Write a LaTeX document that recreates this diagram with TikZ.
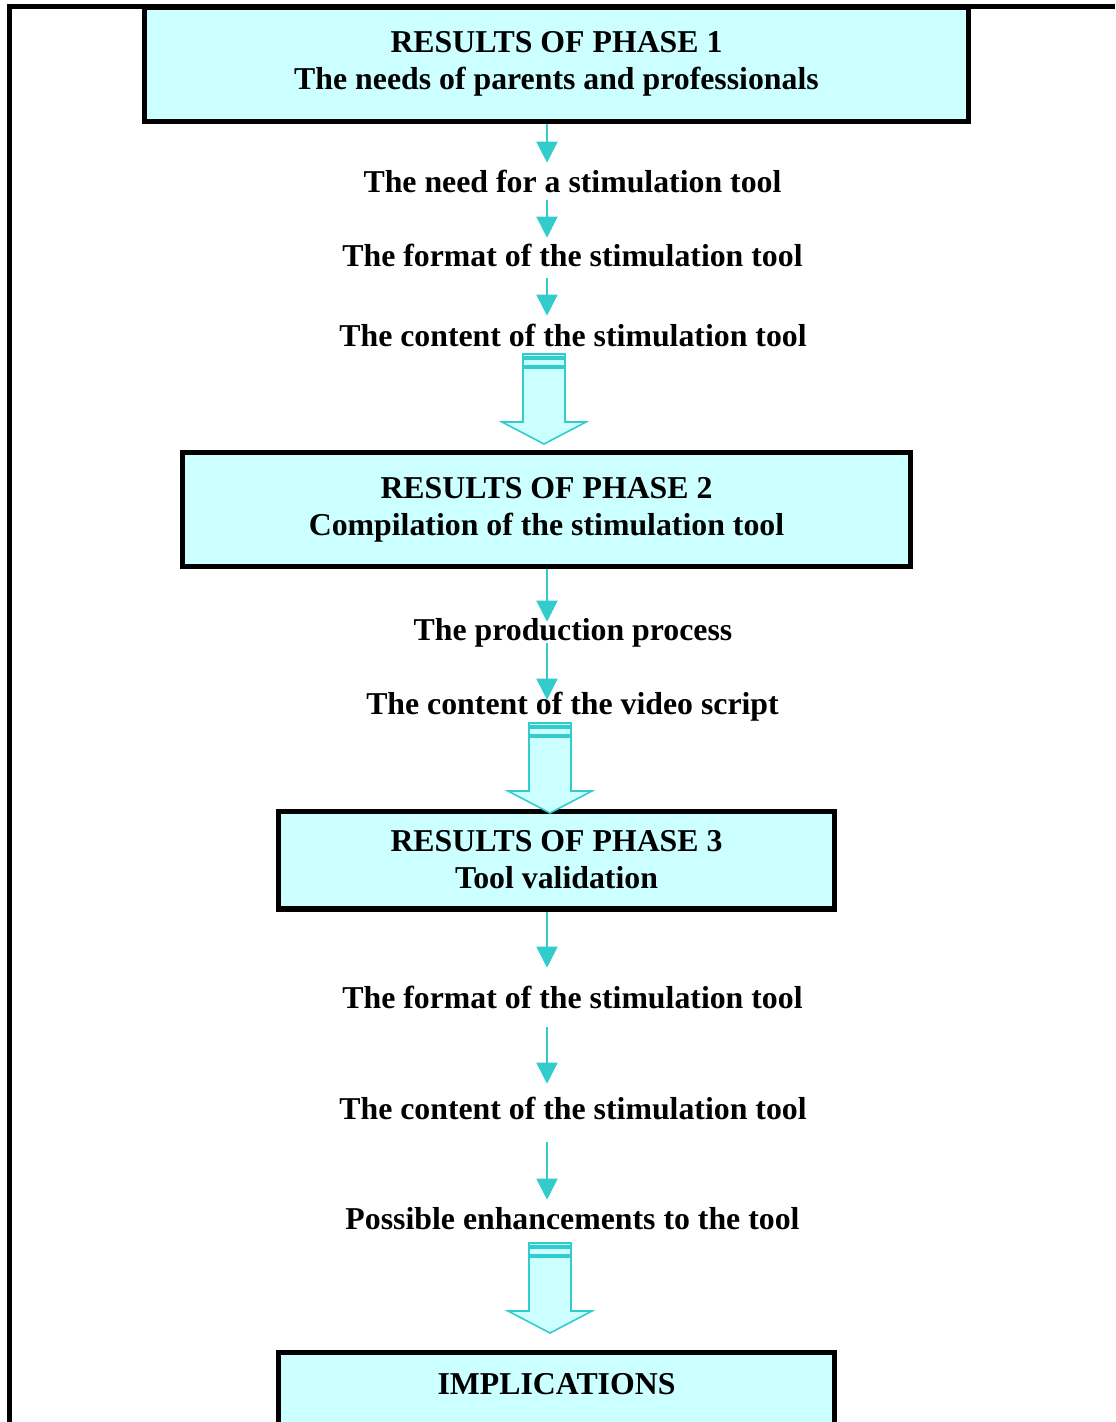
\documentclass[tikz,border=0pt]{standalone}
\usepackage{fontspec}
\setmainfont{Liberation Serif}
\usetikzlibrary{arrows.meta,calc}
\definecolor{boxcyan}{RGB}{204,255,255}
\definecolor{arrowteal}{RGB}{51,204,204}

\begin{document}
\begin{tikzpicture}[
    x=0.02cm,
    y=-0.02cm,
    font=\fontsize{18.1}{21}\selectfont\bfseries,
    box/.style={
        draw=black,
        line width=2.85pt,
        fill=boxcyan,
        align=center
    },
    lbl/.style={
        inner sep=0pt,
        text height=11.9pt,
        text depth=0pt
    },
    arr/.style={-{Triangle[length=12pt,width=12pt]}, line width=1.1pt, draw=arrowteal},
    bigarr/.style={draw=arrowteal, fill=boxcyan, line width=0.9pt},
    bigarrow/.pic={
        \draw[bigarr] (-21,-90) rectangle (21,-87);
        \draw[bigarr] (-21,-85) rectangle (21,-78);
        \draw[bigarr] (-21,-76) -- (-21,-22) -- (-42,-22) -- (0,0)
            -- (42,-22) -- (21,-22) -- (21,-76) -- cycle;
    }
]

\useasboundingbox (0,0) rectangle (1115,1422);
\clip (0,0) rectangle (1115,1422);

% outer frame
\draw[line width=2.85pt] (1115,7) -- (9.5,7) -- (9.5,1422);

\coordinate (axis) at (547,0);

% phase 1
\node[box, minimum width=16.5cm, minimum height=2.29cm] (p1) at (556.5,64.25)
{RESULTS OF PHASE 1\\The needs of parents and professionals};

\node[lbl] (need) at (572.5,182) {The need for a stimulation tool};
\node[lbl] (format1) at (572.5,256) {The format of the stimulation tool};
\node[lbl] (content1) at (573,336) {The content of the stimulation tool};

% phase 2
\node[box, minimum width=14.58cm, minimum height=2.3cm] (p2) at (546.5,509.5)
{RESULTS OF PHASE 2\\Compilation of the stimulation tool};

\node[lbl] (prod) at (573,630) {The production process};
\node[lbl] (script) at (572.5,704) {The content of the video script};

% phase 3
\node[box, minimum width=11.14cm, minimum height=1.96cm] (p3) at (556.5,860)
{RESULTS OF PHASE 3\\Tool validation};

\node[lbl] (format3) at (572.5,998) {The format of the stimulation tool};
\node[lbl] (content3) at (573,1109) {The content of the stimulation tool};
\node[lbl] (enh) at (572.5,1219) {Possible enhancements to the tool};

% implications (runs off the page)
\node[box, minimum width=11.14cm, anchor=north, inner ysep=12.2pt,
      text height=11.9pt, text depth=80pt] (impl) at (556.5,1349.5)
{IMPLICATIONS};

% small arrows
\draw[arr] (p1.south -| axis) -- ($(need.north -| axis)+(0,-8.5)$);
\draw[arr] ($(need.south -| axis)+(0,7.5)$) -- ($(format1.north -| axis)+(0,-7.5)$);
\draw[arr] ($(format1.south -| axis)+(0,11.5)$) -- ($(content1.north -| axis)+(0,-9.5)$);

\draw[arr] (p2.south -| axis) -- ($(prod.north -| axis)+(0,2.5)$);
\draw[arr] ($(prod.south -| axis)+(0,2.5)$) -- ($(script.north -| axis)+(0,6.5)$);

\draw[arr] (p3.south -| axis) -- ($(format3.north -| axis)+(0,-19.5)$);
\draw[arr] ($(format3.south -| axis)+(0,18.5)$) -- ($(content3.north -| axis)+(0,-14.5)$);
\draw[arr] ($(content3.south -| axis)+(0,22.5)$) -- ($(enh.north -| axis)+(0,-8.5)$);

% block arrows into the boxes
\pic at ($(p2.north)+(-2.5,-5.5)$) {bigarrow};
\pic at ($(p3.north)+(-6.5,4.5)$) {bigarrow};
\pic at ($(impl.north)+(-6.5,-16.5)$) {bigarrow};

\end{tikzpicture}
\end{document}
